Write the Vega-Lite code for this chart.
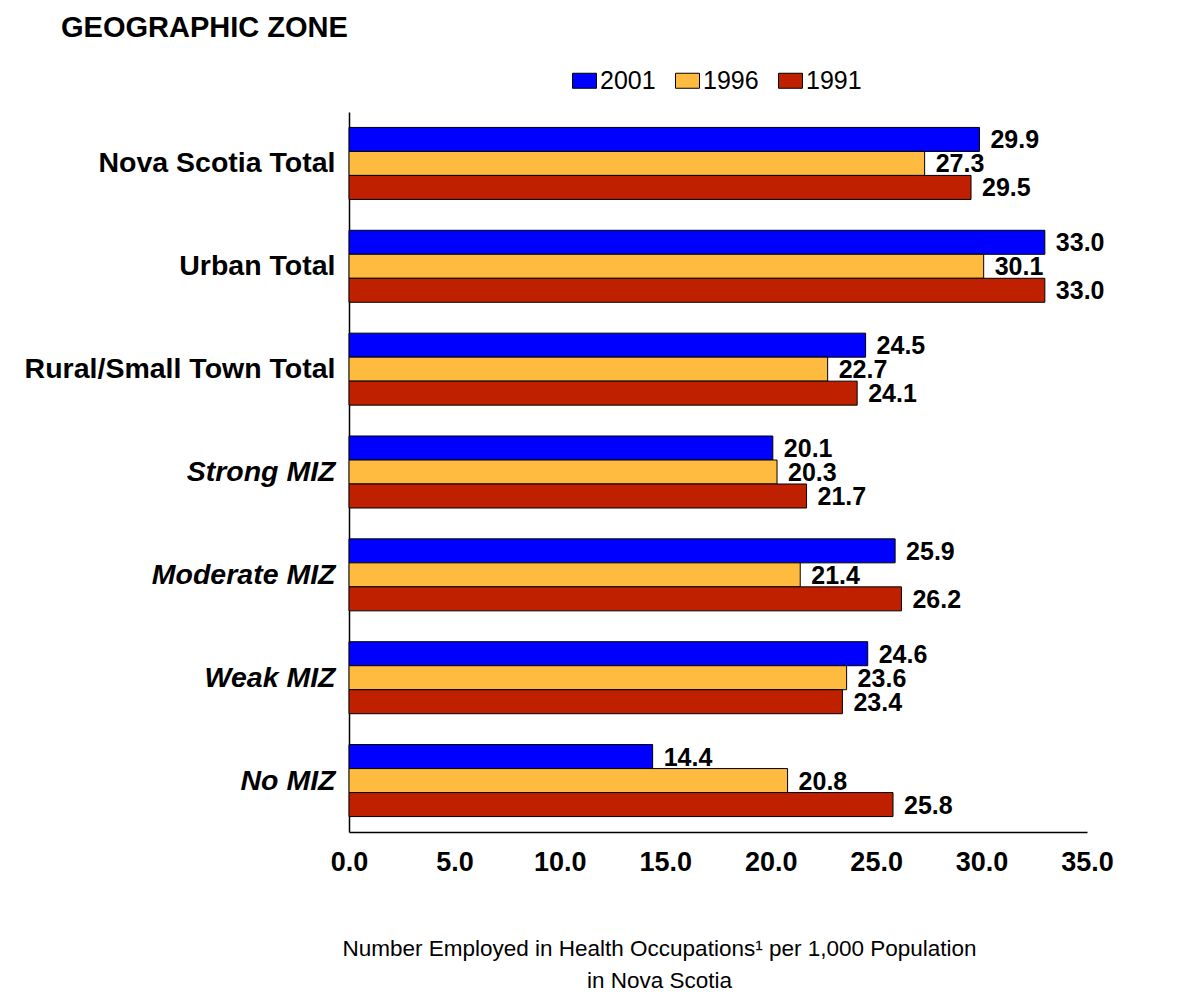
{
  "$schema": "https://vega.github.io/schema/vega-lite/v6.json",
  "autosize": {"type": "none"},
  "padding": {"left": 349, "top": 112, "right": 92, "bottom": 162},
  "width": 738,
  "height": 720,
  "background": "white",
  "config": {
    "font": "Liberation Sans",
    "view": {"stroke": null}
  },
  "title": {
    "text": "GEOGRAPHIC ZONE",
    "anchor": "start",
    "frame": "group",
    "fontSize": 29,
    "fontWeight": "bold",
    "color": "black",
    "dx": -288,
    "dy": -21
  },
  "data": {
    "values": [
      {"zone": "Nova Scotia Total", "year": "2001", "value": 29.9},
      {"zone": "Nova Scotia Total", "year": "1996", "value": 27.3},
      {"zone": "Nova Scotia Total", "year": "1991", "value": 29.5},
      {"zone": "Urban Total", "year": "2001", "value": 33.0},
      {"zone": "Urban Total", "year": "1996", "value": 30.1},
      {"zone": "Urban Total", "year": "1991", "value": 33.0},
      {"zone": "Rural/Small Town Total", "year": "2001", "value": 24.5},
      {"zone": "Rural/Small Town Total", "year": "1996", "value": 22.7},
      {"zone": "Rural/Small Town Total", "year": "1991", "value": 24.1},
      {"zone": "Strong MIZ", "year": "2001", "value": 20.1},
      {"zone": "Strong MIZ", "year": "1996", "value": 20.3},
      {"zone": "Strong MIZ", "year": "1991", "value": 21.7},
      {"zone": "Moderate MIZ", "year": "2001", "value": 25.9},
      {"zone": "Moderate MIZ", "year": "1996", "value": 21.4},
      {"zone": "Moderate MIZ", "year": "1991", "value": 26.2},
      {"zone": "Weak MIZ", "year": "2001", "value": 24.6},
      {"zone": "Weak MIZ", "year": "1996", "value": 23.6},
      {"zone": "Weak MIZ", "year": "1991", "value": 23.4},
      {"zone": "No MIZ", "year": "2001", "value": 14.4},
      {"zone": "No MIZ", "year": "1996", "value": 20.8},
      {"zone": "No MIZ", "year": "1991", "value": 25.8}
    ]
  },
  "encoding": {
    "y": {
      "field": "zone",
      "type": "nominal",
      "sort": ["Nova Scotia Total", "Urban Total", "Rural/Small Town Total", "Strong MIZ", "Moderate MIZ", "Weak MIZ", "No MIZ"],
      "scale": {"paddingInner": 0.3, "paddingOuter": 0.15},
      "axis": {
        "title": null,
        "ticks": false,
        "tickSize": 0,
        "domainColor": "black",
        "domainWidth": 1.5,
        "labelFontSize": 28.5,
        "labelFontWeight": "bold",
        "labelColor": "black",
        "labelPadding": 14,
        "labelLimit": 400,
        "labelFontStyle": {
          "condition": {"test": "indexof(['Strong MIZ','Moderate MIZ','Weak MIZ','No MIZ'], datum.value) >= 0", "value": "italic"},
          "value": "normal"
        }
      }
    },
    "yOffset": {"field": "year", "type": "nominal", "sort": ["2001", "1996", "1991"]},
    "x": {
      "field": "value",
      "type": "quantitative",
      "scale": {"domain": [0, 35], "nice": false},
      "axis": {
        "values": [0, 5, 10, 15, 20, 25, 30, 35],
        "format": ".1f",
        "grid": false,
        "ticks": false,
        "tickSize": 0,
        "domainColor": "black",
        "domainWidth": 1.5,
        "labelFontSize": 27,
        "labelFontWeight": "bold",
        "labelColor": "black",
        "labelPadding": 17,
        "labelFlush": false,
        "title": ["Number Employed in Health Occupations¹ per 1,000 Population", "in Nova Scotia"],
        "titleFontSize": 22.5,
        "titleFontWeight": "normal",
        "titleColor": "black",
        "titleLineHeight": 32,
        "titleAlign": "center",
        "titleAnchor": "start",
        "titleBaseline": "alphabetic",
        "titleX": 310,
        "titleY": 123
      }
    }
  },
  "layer": [
    {
      "mark": {"type": "bar", "stroke": "black", "strokeWidth": 1},
      "encoding": {
        "color": {
          "field": "year",
          "type": "nominal",
          "scale": {"domain": ["2001", "1996", "1991"], "range": ["#0000FF", "#FFBB40", "#BF2000"]},
          "legend": {
            "title": null,
            "orient": "none",
            "direction": "horizontal",
            "legendX": 223,
            "legendY": -44,
            "symbolType": "M-1,-0.625H1V0.625H-1Z",
            "symbolSize": 576,
            "symbolStrokeColor": "black",
            "symbolStrokeWidth": 1,
            "symbolOpacity": 1,
            "labelFontSize": 25,
            "labelColor": "black",
            "labelOffset": 3,
            "columnPadding": 17,
            "padding": 0
          }
        }
      }
    },
    {
      "mark": {"type": "text", "align": "left", "baseline": "middle", "dx": 11, "dy": 1, "fontSize": 25, "fontWeight": "bold", "color": "black"},
      "encoding": {
        "text": {"field": "value", "type": "quantitative", "format": ".1f"}
      }
    }
  ]
}
